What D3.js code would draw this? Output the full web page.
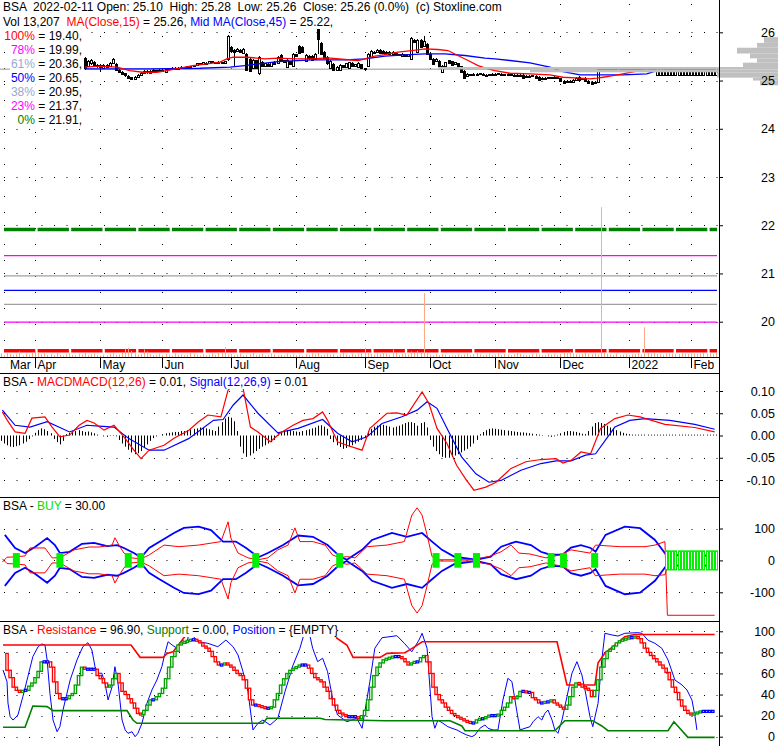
<!DOCTYPE html>
<html><head><meta charset="utf-8">
<script src="https://cdn.jsdelivr.net/npm/d3@7"></script>
<style>
body{margin:0;background:#fff}
svg{display:block}
text{font-family:Arial,"Liberation Sans",sans-serif;font-size:12px}
</style>
</head><body>
<svg id="c" width="778" height="746"></svg>
<script>
// ---------------- DATA ----------------
const monthLabels = ["Mar","Apr","May","Jun","Jul","Aug","Sep","Oct","Nov","Dec","2022","Feb"];
const monthIndex  = [2,12,33,53,75,96,118,139,160,181,203,223];
const nBars = 232;

const candleStart = 28;
const candleOpen = [25.46,25.30,25.35,25.38,25.30,25.32,25.27,25.33,25.30,25.36,25.35,25.22,25.18,25.15,25.10,25.07,25.04,25.08,25.12,25.15,25.19,25.16,25.20,25.21,25.19,25.22,25.18,25.22,25.25,25.26,25.27,25.26,25.28,25.28,25.30,25.29,25.32,25.36,25.33,25.37,25.35,25.40,25.36,25.36,25.38,25.35,25.45,25.70,25.64,25.62,25.64,25.58,25.55,25.45,25.25,25.42,25.14,25.38,25.30,25.35,25.30,25.38,25.36,25.52,25.42,25.28,25.40,25.32,25.54,25.72,25.70,25.40,25.50,25.50,25.45,26.08,25.78,25.60,25.48,25.25,25.35,25.22,25.22,25.32,25.27,25.25,25.37,25.30,25.28,25.34,25.25,25.30,25.50,25.60,25.58,25.64,25.62,25.58,25.60,25.56,25.58,25.55,25.52,25.55,25.50,25.45,25.85,25.60,25.85,25.72,25.75,25.55,25.45,25.40,25.40,25.18,25.30,25.42,25.40,25.34,25.36,25.30,25.20,25.10,25.13,25.12,25.14,25.13,25.14,25.12,25.10,25.12,25.14,25.12,25.14,25.13,25.12,25.13,25.11,25.12,25.10,25.12,25.07,25.10,25.08,25.10,25.08,25.03,25.06,25.04,25.07,25.05,25.08,25.05,25.00,24.97,25.00,24.98,25.02,25.08,25.03,25.06,25.00,24.97,24.94,24.98,25.24,25.22,25.24,25.23,25.25,25.22,25.24,25.25,25.23,25.26,25.24,25.25,25.27,25.24,25.26,25.24,25.27,25.25,25.10,25.10,25.10,25.10,25.10,25.10,25.10,25.10,25.10,25.10,25.10,25.10,25.10,25.10,25.10,25.10,25.10,25.10,25.10,25.10];
const candleHigh = [25.48,25.42,25.44,25.40,25.35,25.34,25.35,25.34,25.38,25.46,25.37,25.24,25.20,25.16,25.12,25.08,25.10,25.14,25.18,25.22,25.21,25.22,25.23,25.22,25.24,25.23,25.25,25.26,25.28,25.29,25.28,25.30,25.29,25.31,25.31,25.33,25.37,25.37,25.39,25.38,25.41,25.41,25.39,25.40,25.39,25.41,25.94,25.72,25.66,25.67,25.65,25.68,25.58,25.47,25.44,25.43,25.50,25.40,25.37,25.36,25.39,25.40,25.50,25.54,25.43,25.44,25.41,25.58,25.56,25.74,25.72,25.54,25.52,25.52,25.57,26.12,25.80,25.62,25.50,25.42,25.36,25.30,25.34,25.33,25.37,25.39,25.38,25.35,25.38,25.35,25.27,25.57,25.64,25.62,25.65,25.65,25.63,25.62,25.61,25.61,25.59,25.56,25.57,25.56,25.56,25.90,25.87,25.87,25.86,25.92,25.77,25.57,25.47,25.46,25.42,25.32,25.39,25.43,25.41,25.39,25.37,25.31,25.21,25.15,25.14,25.15,25.15,25.16,25.15,25.13,25.14,25.15,25.15,25.16,25.15,25.14,25.15,25.14,25.13,25.13,25.13,25.13,25.11,25.11,25.12,25.11,25.09,25.07,25.07,25.08,25.08,25.09,25.09,25.06,25.01,25.01,25.01,25.03,25.07,25.09,25.06,25.07,25.01,24.98,24.98,25.26,25.26,25.25,25.25,25.26,25.26,25.25,25.26,25.26,25.27,25.27,25.26,25.28,25.28,25.27,25.27,25.28,25.28,25.27,25.26,25.26,25.26,25.26,25.26,25.26,25.26,25.26,25.26,25.26,25.26,25.26,25.26,25.26,25.26,25.26,25.26,25.26,25.26,25.26];
const candleLow = [25.22,25.28,25.33,25.28,25.27,25.17,25.25,25.26,25.28,25.34,25.20,25.15,25.12,25.08,25.04,25.01,25.02,25.06,25.10,25.14,25.14,25.15,25.18,25.17,25.18,25.18,25.17,25.21,25.24,25.25,25.25,25.25,25.26,25.27,25.27,25.28,25.31,25.32,25.32,25.34,25.34,25.36,25.35,25.35,25.34,25.34,25.41,25.60,25.31,25.60,25.58,25.56,25.19,25.18,25.23,25.23,25.12,25.28,25.29,25.28,25.29,25.32,25.35,25.40,25.36,25.26,25.32,25.30,25.48,25.56,25.58,25.38,25.43,25.40,25.44,25.55,25.52,25.46,25.33,25.23,25.20,25.21,25.21,25.25,25.26,25.24,25.28,25.29,25.27,25.23,25.20,25.28,25.48,25.56,25.57,25.55,25.56,25.56,25.55,25.55,25.53,25.50,25.51,25.48,25.49,25.44,25.78,25.58,25.68,25.70,25.53,25.43,25.33,25.38,25.28,25.17,25.29,25.34,25.30,25.33,25.26,25.16,25.04,25.08,25.09,25.11,25.10,25.12,25.10,25.09,25.09,25.11,25.11,25.11,25.12,25.11,25.11,25.10,25.10,25.09,25.09,25.05,25.06,25.07,25.07,25.05,25.01,25.02,25.03,25.03,25.04,25.04,25.04,24.97,24.95,24.96,24.96,24.97,25.01,25.01,25.02,24.99,24.95,24.90,24.93,24.97,25.21,25.21,25.22,25.22,25.21,25.21,25.23,25.22,25.22,25.23,25.23,25.24,25.23,25.23,25.23,25.23,25.24,25.24,25.10,25.10,25.10,25.10,25.10,25.10,25.10,25.10,25.10,25.10,25.10,25.10,25.10,25.10,25.10,25.10,25.10,25.10,25.10,25.10];
const candleClose = [25.25,25.40,25.42,25.30,25.33,25.27,25.33,25.28,25.36,25.44,25.22,25.17,25.14,25.10,25.06,25.03,25.08,25.12,25.16,25.20,25.16,25.20,25.22,25.19,25.22,25.20,25.24,25.25,25.27,25.27,25.26,25.28,25.27,25.30,25.28,25.32,25.36,25.33,25.38,25.35,25.40,25.37,25.38,25.39,25.35,25.40,25.93,25.62,25.60,25.66,25.60,25.66,25.21,25.20,25.42,25.25,25.48,25.30,25.36,25.30,25.38,25.34,25.48,25.42,25.38,25.42,25.34,25.56,25.50,25.58,25.60,25.52,25.45,25.42,25.55,25.85,25.55,25.48,25.35,25.40,25.22,25.28,25.32,25.27,25.36,25.38,25.30,25.34,25.37,25.25,25.22,25.55,25.62,25.58,25.63,25.57,25.58,25.60,25.56,25.60,25.55,25.52,25.56,25.50,25.55,25.88,25.80,25.85,25.70,25.82,25.55,25.45,25.35,25.45,25.30,25.30,25.38,25.36,25.32,25.38,25.28,25.18,25.06,25.14,25.10,25.14,25.11,25.15,25.11,25.10,25.13,25.14,25.12,25.15,25.13,25.12,25.14,25.11,25.12,25.10,25.12,25.06,25.10,25.08,25.11,25.06,25.02,25.06,25.04,25.07,25.05,25.08,25.05,24.98,24.96,25.00,24.97,25.02,25.06,25.02,25.05,25.00,24.96,24.93,24.97,25.24,25.22,25.24,25.23,25.25,25.22,25.24,25.25,25.23,25.26,25.24,25.25,25.27,25.24,25.26,25.24,25.27,25.25,25.26,25.25,25.25,25.25,25.25,25.25,25.25,25.25,25.25,25.25,25.25,25.25,25.25,25.25,25.25,25.25,25.25,25.25,25.25,25.25,25.25];

const volumeK = [8,12,6,15,10,7,9,18,5,11,8,14,
22,16,9,12,7,10,6,14,8,5,9,12,7,6,10,8,13,6,9,11,7,
5,8,6,10,12,7,9,14,28,30,20,12,8,10,25,18,9,7,6,11,
6,10,8,5,12,7,9,6,8,14,10,7,5,9,6,8,11,7,15,12,33,9,
10,6,8,12,5,7,9,14,6,8,10,5,7,12,9,6,8,5,11,7,9,
6,8,5,10,7,12,9,14,6,8,11,7,10,5,9,13,8,6,10,7,9,12,
30,14,10,8,12,9,16,11,7,25,13,8,10,12,9,18,14,20,16,211,12,
8,6,9,7,10,8,6,5,7,9,6,8,12,7,10,16,9,6,8,11,7,
9,12,7,10,8,6,9,14,10,8,6,7,9,11,8,6,7,10,8,9,7,
10,14,16,18,12,9,8,11,13,10,9,12,8,495,14,11,9,7,10,6,8,9,
7,9,10,12,8,98,14,11,12,10,9,8,10,12,11,9,10,12,11,10,
12,11,10,12,13,11,12,10,13];

const ma15 = [[28.1,25.276],[32.9,25.297],[38.4,25.276],[42.5,25.207],[46.7,25.172],[51.2,25.172],[54.4,25.207],[58.6,25.255],[62.8,25.311],[67.3,25.346],[71.5,25.38],[73.7,25.45],[75.7,25.483],[80.2,25.483],[86,25.45],[90.1,25.463],[95.6,25.45],[101.1,25.45],[106.2,25.471],[111.7,25.436],[115.9,25.415],[118.1,25.45],[121.3,25.504],[124.6,25.539],[128.7,25.587],[133.2,25.622],[137.4,25.658],[141.6,25.643],[144.8,25.622],[148,25.519],[151.3,25.415],[154.5,25.311],[157.7,25.243],[159.9,25.207],[164.8,25.151],[171.2,25.139],[177.6,25.118],[181.8,25.068],[187.3,25.048],[190.5,25.035],[192.7,25.048],[194.7,25.068],[197.9,25.104],[201.1,25.139],[205.6,25.193],[209.8,25.243],[214,25.255],[231,25.26]];
const ma45 = [[28.1,25.243],[49,25.243],[65.1,25.255],[74.7,25.276],[79.5,25.311],[90.1,25.394],[101.1,25.429],[111.7,25.429],[118.1,25.45],[124.6,25.504],[131,25.533],[137.4,25.554],[143.8,25.554],[150.3,25.519],[156.7,25.463],[159.9,25.45],[164.8,25.415],[171.2,25.367],[177.6,25.276],[181.8,25.187],[187.3,25.118],[193.7,25.118],[201.1,25.118],[208.8,25.139],[212,25.207],[214,25.222],[231,25.222]];

const fibLabels = ["100%","78%","61%","50%","38%","23%","0%"];
const fibLevels = [19.40,19.99,20.36,20.65,20.95,21.37,21.91];

const profileLow  = [24.90,25.00,25.06,25.17,25.23,25.28,25.37,25.46,25.56,25.68,25.78];
const profileHigh = [25.00,25.06,25.17,25.23,25.28,25.37,25.46,25.56,25.68,25.78,25.90];
const profileVol  = [18,25,61,248,340,35,21,28,41,21,14];
const pocPrice = 25.235;

const priceTicks = [20,21,22,23,24,25,26];

const macdLine = [[1.5,0.053],[3.1,0.034],[5.6,0.008],[8.8,0.005],[11,0.039],[15.2,0.042],[17.5,0.019],[20,-0.003],[23.1,0.001],[26.2,0.023],[28.7,0.034],[31,0.028],[34.2,0.012],[37.4,0.023],[40.6,-0.003],[43.8,-0.033],[46.1,-0.052],[48.7,-0.033],[53.5,-0.022],[56.7,-0.006],[61.5,0.012],[64.6,0.031],[67.6,0.046],[71.8,0.042],[74.1,0.102],[76.6,0.118],[78.9,0.107],[81.3,0.019],[83.7,0.008],[87.7,-0.014],[90.8,0.005],[95,0.023],[98.2,0.034],[101.4,0.038],[104.5,0.053],[106.1,0.034],[109.3,-0.014],[112.3,-0.022],[117.2,-0.033],[119.7,0.016],[125.2,0.05],[128.4,0.051],[131.6,0.046],[136.5,0.098],[138.7,0.072],[141.3,0.016],[144.5,-0.018],[147.6,-0.067],[150.8,-0.101],[153.2,-0.123],[157,-0.116],[160.3,-0.105],[165.1,-0.074],[169.9,-0.059],[174.7,-0.054],[179.6,-0.052],[181.8,-0.062],[184.4,-0.056],[187.6,-0.037],[190.7,-0.041],[193.9,0.016],[198.5,0.038],[202.7,0.046],[206.6,0.042],[214.6,0.025],[224.2,0.018],[230.6,0.008]];
const signalLine = [[1.5,0.057],[5.6,0.023],[10.4,0.019],[15.9,0.031],[23.1,0.008],[28.7,0.023],[32.6,0.021],[37.4,0.019],[42.2,-0.007],[48.7,-0.033],[53.5,-0.033],[61.4,-0.007],[69.4,0.034],[72.5,0.036],[75.7,0.068],[78.9,0.091],[83.7,0.05],[90.1,0.006],[96.6,0.016],[104.5,0.036],[109.3,0.005],[114,-0.014],[118.8,-0.003],[123.6,0.027],[130,0.042],[134.9,0.057],[138.1,0.076],[141.3,0.061],[145.1,0.008],[149.2,-0.048],[153.8,-0.086],[158,-0.105],[161.9,-0.101],[168.3,-0.078],[174.7,-0.063],[179.6,-0.057],[184.4,-0.057],[189.1,-0.044],[192.3,-0.041],[198.5,0.019],[203.3,0.034],[208.2,0.038],[216.2,0.034],[224.2,0.025],[230.6,0.014]];
const macdHistMilli = [-8,-12,-18,-22,
-25,-26,-24,-22,-18,-14,
-8,-2,
6,12,16,14,10,5,
-8,-15,-20,-12,
3,6,9,10,12,10,8,9,7,5,2,
0,-2,-3,-1,1,-2,
-10,-18,-25,-32,-38,-42,-40,-35,-28,-20,
-12,-6,-2,0,
3,5,6,7,8,8,10,10,12,14,15,16,18,17,16,14,12,10,
20,30,38,42,40,32,
10,-25,-40,-48,-45,-40,-35,-30,-25,-22,-18,-15,-10,
5,8,10,12,12,10,9,8,10,12,14,16,18,22,23,20,15,
-8,-15,-22,-26,-30,-28,-25,-22,-18,-14,-10,-5,
10,15,20,22,25,24,22,20,18,20,22,25,28,30,30,28,22,28,30,18,
-10,-25,-35,-42,-48,-50,-50,-48,-45,-42,-38,-34,-30,-25,-18,-10,
3,8,12,15,16,15,14,13,12,11,10,9,8,7,7,6,5,4,3,2,1,0,
-2,-3,-2,2,5,
8,10,10,9,8,6,4,3,
10,20,28,30,28,26,22,18,15,12,9,6,4,3,2,
2,2,2,2,2,2,2,2,2,2,2,2,2,2,2,2,2,2,2,2,2,2,2,2,2,2,2];
const macdTicks = [-0.10,-0.05,0.00,0.05,0.10];

const buyUpperBlue = [[2.3,80],[5.6,39],[8.8,23],[12,42],[15.9,70],[18.4,48],[20,23],[23.1,27],[27.1,52],[31,55],[35.2,45],[38.4,48],[40.6,39],[43.8,23],[46.1,9],[48.7,39],[51.9,58],[56.7,86],[59.9,102],[64.6,106],[68.6,95],[72.5,59],[76.6,59],[79.9,39],[82.9,17],[83.7,9],[86.9,23],[91.8,48],[96.6,78],[101.4,74],[106.1,48],[110.1,12],[112.3,2],[117.2,33],[120.4,64],[126.8,86],[131.6,74],[136.5,86],[139.7,59],[142.9,33],[146.8,12],[153.8,2],[158.6,12],[161.9,43],[166.7,59],[171.5,48],[174.7,27],[178,17],[181.8,19],[184.4,40],[187.6,48],[190.7,39],[192.3,27],[195.5,80],[201.7,106],[206.6,101],[211.4,64],[215.4,12],[219.4,17],[224.2,19],[230.6,12]];
const buyLowerBlue = [[2.3,-80],[5.6,-39],[8.8,-23],[12,-42],[15.9,-70],[18.4,-48],[20,-23],[23.1,-27],[27.1,-52],[31,-55],[35.2,-45],[38.4,-48],[40.6,-39],[43.8,-23],[46.1,-9],[48.7,-39],[51.9,-58],[56.7,-86],[59.9,-102],[64.6,-106],[68.6,-95],[72.5,-59],[76.6,-59],[79.9,-39],[82.9,-17],[83.7,-9],[86.9,-23],[91.8,-48],[96.6,-78],[101.4,-74],[106.1,-48],[110.1,-12],[112.3,-2],[117.2,-33],[120.4,-64],[126.8,-86],[131.6,-74],[136.5,-86],[139.7,-59],[142.9,-33],[146.8,-12],[153.8,-2],[158.6,-12],[161.9,-43],[166.7,-59],[171.5,-48],[174.7,-27],[178,-17],[181.8,-19],[184.4,-40],[187.6,-48],[190.7,-39],[192.3,-27],[195.5,-80],[201.7,-106],[206.6,-101],[211.4,-64],[215.4,-12],[219.4,-17],[224.2,-19],[230.6,-14]];
const buyUpperRed = [[1.5,-5],[3,10],[5.6,11],[8.8,14],[10.4,39],[15.2,39],[17.5,8],[20,8],[24.5,33],[29.4,42],[32.6,42],[36.8,48],[37.7,71],[39,48],[40.6,23],[43,8],[46.1,5],[48.7,17],[53.5,48],[58.3,43],[64.6,48],[69.2,55],[71.8,59],[73.4,102],[74.1,121],[75,70],[77.3,23],[80.5,8],[83.7,2],[86.9,8],[90.1,33],[93.4,48],[95.6,102],[97.2,59],[101.4,59],[105.3,48],[107.7,17],[110.1,8],[112.3,12],[114.9,8],[118.8,43],[125.2,48],[130.8,59],[133.2,142],[134.9,165],[136.5,142],[138.1,80],[139.7,12],[141.3,2],[151.9,2],[158,12],[161.9,27],[165.1,48],[167.6,23],[171.2,20],[176.3,8],[180.8,17],[184.4,33],[190.5,23],[192.3,48],[200.1,43],[208.2,43],[211.4,48],[214.6,59],[215.4,-172],[230.6,-172]];
const buyLowerRed = [[1.5,5],[3,-10],[5.6,-11],[8.8,-14],[10.4,-39],[15.2,-39],[17.5,-8],[20,-8],[24.5,-33],[29.4,-42],[32.6,-42],[36.8,-48],[37.7,-71],[39,-48],[40.6,-23],[43,-8],[46.1,-5],[48.7,-17],[53.5,-48],[58.3,-43],[64.6,-48],[69.2,-55],[71.8,-59],[73.4,-102],[74.1,-121],[75,-70],[77.3,-23],[80.5,-8],[83.7,-2],[86.9,-8],[90.1,-33],[93.4,-48],[95.6,-102],[97.2,-59],[101.4,-59],[105.3,-48],[107.7,-17],[110.1,-8],[112.3,-12],[114.9,-8],[118.8,-43],[125.2,-48],[130.8,-59],[133.2,-142],[134.9,-165],[136.5,-142],[138.1,-80],[139.7,-12],[141.3,-2],[151.9,-2],[158,-12],[161.9,-27],[165.1,-48],[167.6,-23],[171.2,-20],[176.3,-8],[180.8,-17],[184.4,-33],[190.5,-23],[192.3,-48],[200.1,-43],[208.2,-43],[211.4,-48],[214.6,-45],[216,0]];
const buySignalIdx = [6,20,42,46,83,110,141,148,154,178,182,192];
const buySignalSize = 23;
const buyHoldIdx = [215,216,217,218,219,220,221,222,223,224,225,226,227,228,229,230,231];
const buyHoldSize = 30;
const buyTicks = [-100,0,100];

const resRed = [[1.7,87],[42.9,87],[45.8,75.3],[53.2,75.3],[54.5,79],[56.4,80.6],[58.6,89],[60.6,96.5],[61.8,98.4],[108.5,98.4],[109.1,93.4],[112.3,87],[114.3,75.3],[123,75.3],[125.2,79.1],[131,79.7],[134.2,85.4],[136.5,90.1],[179.9,90.1],[183.1,49.1],[192.1,49.1],[193.1,70],[195.3,79.4],[198.5,87],[201.7,94.9],[204.9,96.9],[230.6,96.9]];
const resGreen = [[1.7,8.9],[8.8,8.9],[11.3,29.1],[15.9,28.5],[17.8,24.7],[41.6,24.7],[43.5,15.8],[44.8,12.7],[85.3,12.7],[86.6,17.5],[103.7,17.5],[105.3,16.3],[124.6,15.2],[145.5,15.2],[149.3,10.2],[150.3,5.7],[179.2,5.7],[182.4,15.2],[191.4,15.2],[194.3,10.2],[196.3,5.7],[215.6,5.7],[217.5,14.2],[220.1,5.7],[222,-0.6],[230.6,-0.6]];
const resBlue = [[1.7,63.3],[3,52.2],[3.3,32],[4,19],[4.9,15.8],[5.6,17.7],[6.5,20.6],[8.1,38],[9.7,56.9],[11.3,75.9],[13,85.4],[14.2,88],[15.2,87],[15.9,72.8],[16.8,41.2],[17.8,15.8],[19.1,4.7],[20,9.5],[21,25.3],[23.3,53.8],[25.5,72.8],[27.4,85.4],[29,89.2],[30.3,82.3],[31.3,66.4],[32.3,60.2],[33.5,60.2],[34.5,50.7],[35.5,34.9],[36.8,47.4],[37.7,66.4],[38.7,50.7],[40,15.8],[41,6.4],[41.9,3.2],[43.2,4.7],[44.2,0],[45.1,3.2],[46.4,12.7],[48,31.7],[49.6,44.3],[51.2,53.8],[52.8,66.4],[53.8,79.1],[54.8,90.1],[56.1,87],[57.7,83.9],[59.3,91.7],[60.9,88.6],[61.5,99],[64.6,90.1],[67.6,88.6],[70.8,85.4],[73.4,91.7],[75.7,85.4],[77.3,77.5],[78.9,61.7],[80.5,42.7],[82.1,6.4],[83.7,12.7],[85.3,15.8],[87.6,11.1],[90.1,17.5],[92.4,42.7],[95,68],[97.2,83.9],[98.8,100],[100.1,100],[101.3,83.9],[102.9,71.2],[104.5,74.4],[106.1,61.7],[107.7,36.4],[109.3,20.6],[112.3,14.2],[115.5,17.5],[117.2,8],[119.7,52.2],[121.3,83.9],[123.6,93.9],[128.4,95.8],[130.8,88.6],[133.2,80.6],[135.5,91.7],[136.5,98.1],[138.1,83.9],[139.7,19],[140.6,8],[141.6,15.8],[143.2,12.7],[144.8,9.5],[146.1,8],[147.7,6.4],[149.3,3.8],[150.9,1.6],[152.5,0],[153.5,1.6],[155.1,8],[156.7,11.1],[157.7,8],[159.3,6.4],[160.9,6.4],[162.5,34.8],[164.1,55.4],[165.4,52.2],[167,23.7],[168,6.4],[169.6,8],[171.2,9.5],[172.2,14.2],[173.8,19],[175,15.8],[176,22.2],[177,25.3],[178.3,15.8],[179.2,6.4],[180.2,3.2],[181.5,15.8],[183.1,38],[184.7,60.2],[186.3,71.2],[187.9,58.5],[188.9,44.3],[190.5,19],[191.4,9.5],[193.1,31.7],[194.3,72.8],[195.3,98.1],[197.6,96.5],[199.5,95.5],[201.7,98.1],[205.9,98.7],[207.2,98.1],[209.1,91.7],[211.4,88.6],[213.6,83.9],[215.6,72.8],[217.8,53.8],[220.1,49.1],[221.7,44.3],[223.3,34.8],[224.3,19],[224.9,6.4]];
const stochStart = 2;
const stochValues = [79,63,56,47,44,42,44,44,48,51,
56,62,71,71,71,66,52,41,36,36,
36,39,41,49,58,66,64,64,64,64,
58,55,51,47,49,55,60,51,43,40,
36,32,27,22,21,25,30,35,35,38,
41,46,55,66,76,81,87,89,90,91,
92,92,91,89,86,84,81,76,71,68,
68,70,68,66,63,60,58,54,46,35,
30,30,29,28,27,27,28,35,41,49,
55,60,63,65,66,68,68,68,65,60,
56,54,52,47,43,36,30,25,22,21,
19,19,19,19,17,20,25,35,47,58,
66,70,73,74,75,76,76,76,74,71,
68,70,71,71,75,77,71,60,47,40,
35,32,28,25,22,20,18,17,15,14,
13,13,16,17,17,19,20,20,20,21,
25,28,32,38,36,38,43,43,42,42,
37,35,32,32,33,33,35,32,30,28,
26,30,38,47,51,50,47,46,44,38,
44,54,66,74,81,83,86,89,91,92,
93,94,94,95,93,89,84,80,77,74,
71,68,65,61,54,47,42,35,29,25,
22,21,22,23,24,24,24,24,24];
const resTicks = [0,20,40,60,80,100];

// ---------------- DRAW ----------------
const svg = d3.select("#c");
const RIGHT = 719;
const x = d3.scaleLinear().domain([0, nBars - 1]).range([-2.3, 715.9]);
const yM = d3.scaleLinear().domain([20, 26]).range([321.7, 32.3]);
const yV = d3.scaleLinear().domain([0, 1180]).range([357, 0]);
const yMacd = d3.scaleLinear().domain([-0.10, 0.10]).range([480, 391]);
const yBuy = d3.scaleLinear().domain([-100, 100]).range([592.3, 528.5]);
const yRes = d3.scaleLinear().domain([0, 100]).range([736.7, 631.3]);

const defs = svg.append("defs");
function clip(id, y0, h){ defs.append("clipPath").attr("id", id).append("rect").attr("x",0).attr("y",y0).attr("width",RIGHT).attr("height",h); }
clip("cMain", 0, 357); clip("cMacd", 373, 124.5); clip("cBuy", 497.5, 123.5); clip("cRes", 621, 125);

const snap = v => Math.round(v) + 0.5;
function hDots(g, y, x0){
  g.append("line").attr("x1", x0 || 4).attr("x2", RIGHT).attr("y1", snap(y)).attr("y2", snap(y))
   .attr("stroke", "#000").attr("stroke-width", 1).attr("stroke-dasharray", "1,11.5");
}
function richText(g, px, py, segs, bg){
  const t = g.append("text").attr("x", px).attr("y", py).attr("xml:space","preserve").style("white-space","pre");
  segs.forEach(s => t.append("tspan").attr("fill", s[1]).text(s[0]));
  if (bg){ const b = t.node().getBBox(); g.insert("rect", () => t.node()).attr("x", b.x-1).attr("y", b.y).attr("width", b.width+2).attr("height", b.height).attr("fill", "#fff"); }
  return t;
}
function rightAxis(scale, ticks, fmt){
  const g = svg.append("g").attr("transform", `translate(${RIGHT},0)`);
  const ax = d3.axisRight(scale).tickValues(ticks).tickSize(4).tickFormat(fmt);
  g.call(ax);
  g.select(".domain").remove();
  g.selectAll(".tick line").attr("stroke", "#000");
  g.selectAll(".tick text").attr("x", 56).attr("text-anchor", "end").attr("fill", "#000")
    .style("font-family", "Arial, 'Liberation Sans', sans-serif").style("font-size", "12.5px");
}
const lineGen = (ys) => d3.line().x(d => x(d[0])).y(d => ys(d[1]));

// ===== MAIN PANEL =====
const gM = svg.append("g");
const gMc = gM.append("g").attr("clip-path", "url(#cMain)");
priceTicks.forEach(v => hDots(gMc, yM(v)));
monthIndex.forEach(i => {
  gMc.append("line").attr("x1", snap(x(i))).attr("x2", snap(x(i))).attr("y1", 4).attr("y2", 357)
    .attr("stroke", "#000").attr("stroke-dasharray", "1,15");
});
// volume profile
const xProf = d3.scaleLinear().domain([0, 340]).range([778, 438]);
gM.append("g").selectAll("rect").data(profileVol).join("rect")
  .attr("x", d => xProf(d)).attr("width", d => 778 - xProf(d))
  .attr("y", (d,i) => yM(profileHigh[i])).attr("height", (d,i) => yM(profileLow[i]) - yM(profileHigh[i]))
  .attr("fill", "#c0c0c0");
gMc.append("line").attr("x1", 0).attr("x2", RIGHT).attr("y1", yM(pocPrice)).attr("y2", yM(pocPrice)).attr("stroke", "#b8b8b8").attr("stroke-width", 1.5);
// fib lines
const fibLineColor = ["#ff0000","#ff00ff","#a0a0a0","#0000ff","#a0a0a0","#ff00ff","#008000"];
const fibTextColor = ["#ff0000","#ff00ff","#98a8d0","#0000ff","#98a8d0","#ff00ff","#008000"];
fibLevels.forEach((v, k) => {
  const thick = (k === 0 || k === fibLevels.length - 1);
  gMc.append("line").attr("x1", 4).attr("x2", RIGHT - 2).attr("y1", yM(v)).attr("y2", yM(v))
    .attr("stroke", fibLineColor[k]).attr("stroke-width", thick ? 3.5 : 1.3)
    .attr("stroke-dasharray", thick ? "31.3,2.3" : null);
});
// volume bars
gMc.append("g").selectAll("line").data(volumeK).join("line")
  .attr("x1", (d,i) => snap(x(i))).attr("x2", (d,i) => snap(x(i)))
  .attr("y1", 357).attr("y2", d => yV(d)).attr("stroke", "#ffa888").attr("stroke-width", 1);
// candles
const cg = gMc.append("g").attr("shape-rendering", "crispEdges");
candleClose.forEach((c, k) => {
  const i = k + candleStart, o = candleOpen[k], h = candleHigh[k], l = candleLow[k];
  const cx = Math.round(x(i));
  cg.append("line").attr("x1", cx + 0.5).attr("x2", cx + 0.5).attr("y1", yM(h)).attr("y2", yM(l)).attr("stroke", "#000");
  const top = yM(Math.max(o, c)), bot = yM(Math.min(o, c));
  const up = c >= o;
  cg.append("rect").attr("x", cx - 0.5).attr("y", Math.round(top) + 0.5).attr("width", 2)
    .attr("height", Math.max(1, Math.round(bot - top)))
    .attr("fill", up ? "#fff" : "#000").attr("stroke", "#000").attr("stroke-width", 1);
});
gMc.append("path").datum(ma45).attr("d", lineGen(yM)).attr("fill", "none").attr("stroke", "#0000ff").attr("stroke-width", 1.3);
gMc.append("path").datum(ma15).attr("d", lineGen(yM)).attr("fill", "none").attr("stroke", "#ff0000").attr("stroke-width", 1.3);
// header text
richText(gM, 3, 11, [["BSA  2022-02-11 Open: 25.10  High: 25.28  Low: 25.26  Close: 25.26 (0.0%)  (c) Stoxline.com", "#000"]], true);
richText(gM, 3, 26, [["Vol 13,207  ", "#000"], ["MA(Close,15)", "#ff0000"], [" = 25.26, ", "#000"], ["Mid MA(Close,45)", "#0000ff"], [" = 25.22,", "#000"]], true);
fibLevels.forEach((v, k) => {
  const t = gM.append("text").attr("x", 82).attr("y", 39.5 + k * 14.1).attr("text-anchor", "end").attr("xml:space","preserve").style("white-space","pre");
  t.append("tspan").attr("fill", fibTextColor[k]).text(fibLabels[k]);
  t.append("tspan").attr("fill", "#000").text(" = " + v.toFixed(2) + ",");
  const b = t.node().getBBox();
  gM.insert("rect", () => t.node()).attr("x", b.x - 1).attr("y", b.y).attr("width", b.width + 3).attr("height", b.height).attr("fill", "#fff");
});
// x axis
gM.append("line").attr("x1", 0).attr("x2", RIGHT).attr("y1", 357.5).attr("y2", 357.5).attr("stroke", "#000");
monthIndex.forEach((i, k) => {
  const tx = snap(x(i));
  if (k > 0) gM.append("line").attr("x1", tx).attr("x2", tx).attr("y1", 357).attr("y2", 368).attr("stroke", "#000");
  gM.append("text").attr("x", k > 0 ? tx + 2 : 10).attr("y", 369).attr("fill", "#000").text(monthLabels[k]);
});
rightAxis(yM, priceTicks, d => d.toFixed(0));

// ===== MACD PANEL =====
const gD = svg.append("g");
gD.append("line").attr("x1", 0).attr("x2", RIGHT).attr("y1", 373.5).attr("y2", 373.5).attr("stroke", "#000");
const gDc = gD.append("g").attr("clip-path", "url(#cMacd)");
macdTicks.filter(v => v !== 0).forEach(v => hDots(gDc, yMacd(v)));
gDc.append("g").selectAll("line").data(macdHistMilli).join("line")
  .attr("x1", (d,i) => snap(x(i))).attr("x2", (d,i) => snap(x(i)))
  .attr("y1", yMacd(0)).attr("y2", d => yMacd(d / 1000)).attr("stroke", "#000").attr("stroke-width", 1);
gDc.append("path").datum(signalLine).attr("d", lineGen(yMacd)).attr("fill", "none").attr("stroke", "#0000ff").attr("stroke-width", 1.2);
gDc.append("path").datum(macdLine).attr("d", lineGen(yMacd)).attr("fill", "none").attr("stroke", "#ff0000").attr("stroke-width", 1.2);
richText(gD, 3, 386, [["BSA - ", "#000"], ["MACDMACD(12,26)", "#ff0000"], [" = 0.01, ", "#000"], ["Signal(12,26,9)", "#0000ff"], [" = 0.01", "#000"]], true);
rightAxis(yMacd, macdTicks, d => d.toFixed(2));

// ===== BUY PANEL =====
const gB = svg.append("g");
gB.append("line").attr("x1", 0).attr("x2", RIGHT).attr("y1", 497.5).attr("y2", 497.5).attr("stroke", "#000");
const gBc = gB.append("g").attr("clip-path", "url(#cBuy)");
buyTicks.forEach(v => hDots(gBc, yBuy(v)));
[buyUpperBlue, buyLowerBlue].forEach(s => gBc.append("path").datum(s).attr("d", lineGen(yBuy)).attr("fill", "none").attr("stroke", "#0000ff").attr("stroke-width", 1.8));
[buyUpperRed, buyLowerRed].forEach(s => gBc.append("path").datum(s).attr("d", lineGen(yBuy)).attr("fill", "none").attr("stroke", "#ff0000").attr("stroke-width", 1));
gBc.append("g").selectAll("rect").data(buySignalIdx).join("rect")
  .attr("x", d => x(d) - 3.5).attr("width", 7)
  .attr("y", yBuy(buySignalSize)).attr("height", yBuy(-buySignalSize) - yBuy(buySignalSize)).attr("fill", "#00f000");
gBc.append("g").selectAll("rect").data(buyHoldIdx).join("rect")
  .attr("x", d => Math.round(x(d)) - 0.5).attr("width", 2)
  .attr("y", yBuy(buyHoldSize)).attr("height", yBuy(-buyHoldSize) - yBuy(buyHoldSize))
  .attr("fill", "#fff").attr("stroke", "#00f000").attr("stroke-width", 1);
richText(gB, 3, 510, [["BSA - ", "#000"], ["BUY", "#00e000"], [" = 30.00", "#000"]], true);
rightAxis(yBuy, buyTicks, d => d.toFixed(0));

// ===== RESISTANCE PANEL =====
const gR = svg.append("g");
gR.append("line").attr("x1", 0).attr("x2", RIGHT).attr("y1", 621.5).attr("y2", 621.5).attr("stroke", "#000");
const gRc = gR.append("g").attr("clip-path", "url(#cRes)");
resTicks.forEach(v => hDots(gRc, yRes(v)));
gRc.append("path").datum(resBlue).attr("d", lineGen(yRes)).attr("fill", "none").attr("stroke", "#0000ff").attr("stroke-width", 1);
gRc.append("path").datum(resGreen).attr("d", lineGen(yRes)).attr("fill", "none").attr("stroke", "#008000").attr("stroke-width", 1.6);
gRc.append("path").datum(resRed).attr("d", lineGen(yRes)).attr("fill", "none").attr("stroke", "#ff0000").attr("stroke-width", 1.6);
const sg = gRc.append("g");
stochValues.forEach((v, k) => {
  if (k === 0) return;
  const i = k + stochStart, p = stochValues[k - 1];
  const d = v - p;
  const col = d > 0.5 ? "#00a000" : (d < -0.5 ? "#ff0000" : "#0000ff");
  const y1 = yRes(Math.max(v, p)), y2 = yRes(Math.min(v, p));
  const hh = Math.max(2, y2 - y1);
  sg.append("rect").attr("x", x(i) - 1.2).attr("width", 2.4).attr("y", (y1 + y2) / 2 - hh / 2).attr("height", hh)
    .attr("fill", "#fff").attr("stroke", col).attr("stroke-width", 1.3);
});
richText(gR, 3, 634, [["BSA - ", "#000"], ["Resistance", "#ff0000"], [" = 96.90, ", "#000"], ["Support", "#008000"], [" = 0.00, ", "#000"], ["Position", "#0000ff"], [" = {EMPTY}", "#000"]], true);
rightAxis(yRes, resTicks, d => d.toFixed(0));

svg.append("line").attr("x1", RIGHT + 0.5).attr("x2", RIGHT + 0.5).attr("y1", 0).attr("y2", 746).attr("stroke", "#000");
</script>
</body></html>
